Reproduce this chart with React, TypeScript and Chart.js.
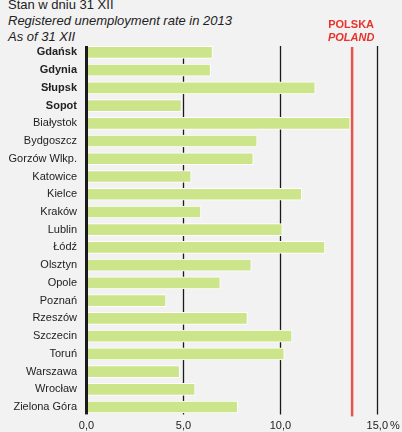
import React, { useEffect, useRef } from "react";
import { Chart, registerables } from "chart.js";

Chart.register(...registerables);

const cities = [
  "Gdańsk", "Gdynia", "Słupsk", "Sopot", "Białystok", "Bydgoszcz", "Gorzów Wlkp.",
  "Katowice", "Kielce", "Kraków", "Lublin", "Łódź", "Olsztyn", "Opole", "Poznań",
  "Rzeszów", "Szczecin", "Toruń", "Warszawa", "Wrocław", "Zielona Góra",
];
const rates = [
  6.5, 6.4, 11.8, 4.9, 13.6, 8.8, 8.6, 5.4, 11.1, 5.9, 10.1, 12.3, 8.5, 6.9, 4.1,
  8.3, 10.6, 10.2, 4.8, 5.6, 7.8,
];
const boldCount = 4;
const polandRate = 13.7;
const gridValues = [5, 10, 15];
const titleLines = ["Stan w dniu 31 XII", "Registered unemployment rate in 2013", "As of 31 XII"];
const refLabels = ["POLSKA", "POLAND"];

const FONT = "'Liberation Sans', Arial, sans-serif";

const overlayPlugin = {
  id: "overlay",
  beforeDatasetsDraw(chart: any) {
    const { ctx, chartArea, scales } = chart;
    const x = scales.x;
    ctx.save();
    ctx.strokeStyle = "#1a1a1a";
    ctx.lineWidth = 1.3;
    for (const v of gridValues) {
      const px = Math.round(x.getPixelForValue(v)) + 0.5;
      ctx.beginPath();
      ctx.moveTo(px, chartArea.top + 2.5);
      ctx.lineTo(px, chartArea.bottom - 1.5);
      ctx.stroke();
    }
    ctx.restore();
  },
  afterDatasetsDraw(chart: any) {
    const { ctx, chartArea, scales } = chart;
    const x = scales.x;
    ctx.save();
    // zero axis
    const x0 = x.getPixelForValue(0);
    ctx.fillStyle = "#1a1a1a";
    ctx.fillRect(x0 - 1.5, chartArea.top + 2.5, 3, chartArea.bottom - chartArea.top - 4);
    // Poland line
    const xp = x.getPixelForValue(polandRate);
    ctx.fillStyle = "#e5534b";
    ctx.fillRect(xp - 1.25, chartArea.top + 3.5, 2.5, chartArea.bottom - chartArea.top - 3);
    ctx.fillStyle = "#e8322c";
    ctx.textAlign = "center";
    ctx.textBaseline = "alphabetic";
    ctx.font = `bold 11px ${FONT}`;
    ctx.fillText(refLabels[0], xp - 1, 28);
    ctx.font = `italic bold 11px ${FONT}`;
    ctx.fillText(refLabels[1], xp - 1, 41);
    // percent sign after last tick
    ctx.fillStyle = "#222";
    ctx.font = `11px ${FONT}`;
    const x15 = x.getPixelForValue(15);
    const w = ctx.measureText("15,0").width;
    ctx.textAlign = "left";
    ctx.textBaseline = "middle";
    ctx.fillText("%", x15 + w / 2 + 2, x.top + 3 + 6.6);
    ctx.restore();
  },
};

export default function App() {
  const ref = useRef<HTMLCanvasElement | null>(null);

  useEffect(() => {
    if (!ref.current) return;
    const chart = new Chart(ref.current, {
      type: "bar",
      data: {
        labels: cities,
        datasets: [
          {
            data: rates,
            backgroundColor: "#cce58a",
            borderColor: "#ffffff",
            borderWidth: 1,
            borderSkipped: "start",
            barThickness: 12,
          },
        ],
      },
      options: {
        indexAxis: "y",
        animation: false,
        responsive: false,
        maintainAspectRatio: false,
        layout: { padding: { top: 43.5, right: 24.7, left: 0, bottom: 0 } },
        plugins: {
          legend: { display: false },
          tooltip: { enabled: false },
          title: { display: false },
        },
        scales: {
          x: {
            type: "linear",
            min: 0,
            max: 15,
            grid: { display: false, drawTicks: false },
            border: { display: false },
            ticks: {
              stepSize: 5,
              padding: 3,
              color: "#222",
              font: { family: FONT, size: 11 },
              callback: (v: any) => Number(v).toFixed(1).replace(".", ","),
            },
            afterFit: (s: any) => {
              s.height = 15.5;
            },
          },
          y: {
            type: "category",
            grid: { display: false, drawTicks: false },
            border: { display: false },
            ticks: {
              padding: 9.5,
              color: "#222",
              font: (c: any) => ({
                family: FONT,
                size: 11,
                weight: c.index < boldCount ? "bold" : "normal",
              }),
            },
            afterFit: (s: any) => {
              s.width = 86.5;
            },
          },
        },
      },
      plugins: [overlayPlugin],
    });
    return () => chart.destroy();
  }, []);

  return (
    <div
      style={{
        position: "fixed",
        left: 0,
        top: 0,
        width: 402,
        height: 432,
        background: "#f2f2f2",
        overflow: "hidden",
      }}
    >
      <div
        style={{
          position: "absolute",
          left: 8,
          top: -3.5,
          fontFamily: FONT,
          fontSize: 13,
          lineHeight: "16px",
          color: "#222",
          whiteSpace: "nowrap",
        }}
      >
        <div>{titleLines[0]}</div>
        <div style={{ fontStyle: "italic" }}>{titleLines[1]}</div>
        <div style={{ fontStyle: "italic" }}>{titleLines[2]}</div>
      </div>
      <canvas
        ref={ref}
        width={402}
        height={432}
        style={{ position: "absolute", left: 0, top: 0, width: 402, height: 432 }}
      />
    </div>
  );
}
